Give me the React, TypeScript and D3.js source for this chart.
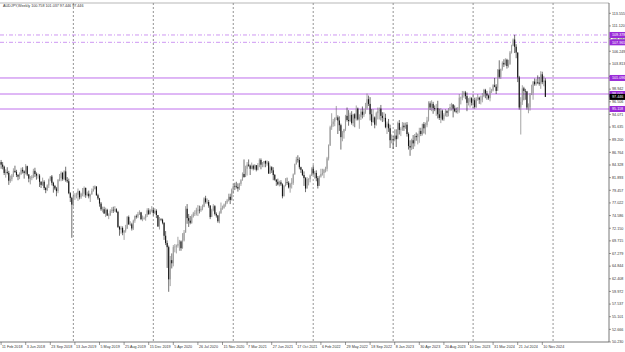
import React from "react";
import * as d3 from "d3";

const W = 625;
const H = 352;

const headerText = "AUDJPY,Weekly  100.758 101.037 97.446 97.446";
const firstOpen = 84.9;

// weekly closes, one row per calendar year (2018 starts 11 Feb 2018, last bar 24 Nov 2024)
const closes = [
  84.4,84.0,82.8,83.0,82.8,81.3,81.6,82.3,83.2,83.0,82.4,82.1,82.6,83.4,83.1,82.8,84.1,82.5,81.7,81.8,82.1,83.2,82.6,82.3,82.3,81.1,80.5,81.1,79.9,79.5,80.4,81.5,82.1,80.9,80.3,79.8,79.3,81.5,81.8,82.8,81.6,83.1,81.4,81.2,78.9,78.0,76.7,
  78.3,78.4,78.6,79.3,78.1,78.8,78.8,79.9,78.5,78.8,78.3,78.6,79.3,79.7,80.2,78.5,77.9,76.9,75.8,75.8,75.0,75.7,74.6,74.7,75.5,75.7,75.6,75.8,75.3,72.4,71.9,72.2,71.3,71.7,72.1,74.3,72.9,72.9,72.1,73.6,74.5,74.4,74.9,75.2,73.9,74.0,74.1,74.7,75.6,74.9,75.5,75.7,
  75.1,75.5,74.7,72.5,73.9,73.8,73.2,70.7,69.3,68.5,62.3,66.0,65.4,68.5,68.6,68.8,69.1,69.6,68.3,69.8,71.3,75.9,74.1,73.6,73.2,74.4,75.0,75.0,75.7,75.7,75.6,75.9,76.3,77.9,77.2,77.2,76.5,74.3,75.6,76.4,74.9,74.6,73.5,75.1,76.0,76.1,76.7,77.1,77.5,78.2,77.6,79.6,
  80.3,80.2,80.1,79.8,80.7,81.4,82.6,82.0,83.6,84.4,84.2,83.6,84.2,83.6,84.3,83.4,84.3,85.3,84.4,84.6,85.1,84.6,84.8,82.7,83.9,83.3,82.4,81.5,81.1,80.6,81.0,80.6,78.3,80.3,81.0,80.9,80.0,80.7,80.9,82.5,84.5,85.4,85.3,83.9,83.4,82.4,81.8,79.8,81.6,81.6,82.3,83.6,
  82.7,82.8,81.8,80.3,82.1,82.6,82.8,83.4,83.6,85.6,88.1,91.6,92.2,92.7,93.4,93.5,92.9,92.0,89.7,90.6,91.2,93.8,93.0,92.8,94.0,92.4,94.1,93.3,95.2,93.1,93.6,94.6,94.0,94.6,95.3,97.0,96.1,94.1,92.6,93.5,92.1,94.3,94.7,95.2,93.8,93.4,93.4,91.6,92.3,91.4,89.1,89.3,
  89.2,90.0,89.3,92.4,91.1,91.2,91.9,91.6,92.1,90.3,88.0,87.7,89.1,88.5,89.9,89.7,90.3,90.9,90.3,92.2,91.4,92.0,92.9,96.2,95.4,96.1,95.3,95.1,95.3,94.1,93.4,94.8,93.1,94.0,94.7,94.4,95.0,95.5,96.0,95.2,94.7,94.6,94.9,97.3,97.3,98.0,98.3,97.6,96.3,96.5,97.2,96.3,
  96.8,95.5,97.1,97.3,96.9,96.9,97.6,98.8,98.1,97.7,97.2,98.6,98.7,99.7,99.4,98.6,102.7,101.3,102.8,104.0,103.7,104.6,103.4,103.8,106.0,107.3,108.5,107.1,106.0,101.2,95.4,96.5,99.1,98.6,98.5,95.4,95.4,97.9,98.2,100.4,99.9,100.3,100.2,100.0,101.8,100.3,100.6,97.446,
];

const highs = [
  85.3,84.9,84.2,83.5,83.9,83.2,82.3,82.6,83.7,84.2,83.4,82.6,82.9,83.8,83.9,83.3,84.5,84.2,82.6,82.2,82.4,83.6,83.8,82.9,82.7,82.6,81.2,81.9,81.4,80.1,80.6,81.7,82.2,82.4,81.1,80.5,80.1,81.6,82.6,83.1,83.0,83.3,84.0,82.0,81.7,79.1,78.2,
  78.9,78.9,79.0,79.8,79.4,79.0,79.9,80.2,80.0,79.2,79.4,78.8,79.8,80.3,80.4,80.2,78.8,78.0,77.2,76.3,76.3,76.1,75.9,75.0,75.8,76.2,76.3,76.4,76.0,75.5,72.6,72.6,72.5,71.8,72.8,74.5,74.6,73.5,73.2,73.8,74.6,74.8,75.3,75.6,75.3,74.6,74.4,74.9,76.0,76.0,75.8,76.4,
  76.0,76.0,75.8,74.6,74.3,74.1,74.0,73.3,71.6,69.8,68.8,66.8,67.3,68.9,69.1,69.0,70.5,69.9,69.8,71.2,71.8,76.4,76.8,74.9,74.5,74.8,75.3,75.6,76.1,76.6,76.5,76.4,76.7,78.1,78.4,77.9,77.6,76.6,75.9,76.8,76.6,75.2,74.7,75.4,77.1,76.5,76.9,77.4,77.8,78.8,78.8,79.8,
  80.6,80.9,81.1,80.8,80.9,81.6,82.9,85.4,84.2,84.9,85.4,84.4,84.8,84.4,84.5,84.3,84.7,85.6,85.6,84.9,85.1,85.2,85.2,85.1,84.2,84.1,83.9,82.6,81.6,81.7,81.3,81.4,80.8,80.5,81.8,81.9,81.2,80.9,81.8,82.7,84.6,85.9,86.2,85.8,84.0,83.5,83.1,82.0,82.0,81.8,82.5,83.9,
  84.3,83.2,83.3,82.2,82.3,83.6,83.6,83.6,84.0,85.9,88.3,91.9,94.3,93.2,93.5,95.7,93.9,93.7,92.3,90.9,91.3,94.0,95.4,94.9,94.4,94.7,94.2,94.3,95.8,95.4,94.1,95.1,95.6,95.1,96.3,98.1,97.7,97.4,95.1,95.1,93.7,94.6,95.4,95.4,95.9,94.5,94.5,94.2,92.7,93.2,92.1,90.2,
  89.9,91.2,91.2,92.7,93.0,91.6,92.6,92.5,92.5,92.6,90.6,89.1,89.4,90.1,90.3,90.6,90.4,91.5,91.5,92.3,92.6,92.5,93.6,96.6,96.6,96.8,96.5,95.8,96.1,96.7,95.2,95.3,95.0,94.3,95.1,94.9,95.3,96.1,96.3,96.0,95.8,95.4,95.5,98.0,97.5,98.6,98.6,98.6,98.3,97.2,97.5,97.4,
  98.0,97.3,97.4,98.0,97.5,97.7,98.2,99.0,99.0,98.6,97.9,99.3,99.0,99.9,101.1,99.9,102.8,104.5,102.9,104.3,104.7,104.9,104.8,104.6,106.3,107.5,108.7,109.4,107.6,106.0,101.5,97.4,99.7,99.4,99.0,98.6,96.2,98.2,99.8,100.5,101.0,100.9,101.6,101.3,102.4,102.3,101.5,101.037,
];

const lows = [
  83.6,83.5,82.4,81.9,82.5,80.5,80.9,81.2,82.0,82.8,82.0,81.4,81.6,82.4,82.7,81.7,82.5,82.2,81.0,80.6,81.4,81.8,82.0,81.5,81.7,80.1,79.9,80.3,79.5,78.9,79.3,79.9,81.2,80.4,79.0,79.5,78.3,78.9,81.2,81.2,81.3,81.4,81.1,80.9,78.7,77.2,70.3,
  76.3,77.6,77.9,77.4,77.7,77.8,78.3,78.2,78.0,78.3,77.9,77.2,78.7,79.2,79.6,78.4,77.6,76.3,75.5,75.2,74.9,74.3,74.5,73.9,74.5,75.1,75.1,75.3,75.1,72.2,70.7,71.1,70.8,69.9,71.3,72.0,72.8,72.6,71.7,71.8,73.2,74.0,74.1,74.7,73.7,73.5,73.8,73.6,74.3,74.7,74.8,75.2,
  74.6,74.9,74.1,72.4,71.9,73.5,72.9,69.9,68.9,64.5,59.9,61.0,64.4,64.8,67.5,67.3,68.4,67.8,67.8,68.2,69.6,71.3,73.0,72.4,72.9,73.0,74.2,74.5,74.6,74.5,75.0,75.3,75.6,76.2,76.9,76.8,76.1,73.9,74.4,75.4,74.6,74.2,73.2,73.1,74.9,75.7,75.9,76.3,76.8,77.3,76.8,77.5,
  78.8,79.5,79.8,79.2,79.5,80.3,81.3,81.9,82.4,82.3,84.0,82.4,83.5,83.3,83.4,83.1,83.3,83.9,83.5,83.9,83.9,83.9,84.2,82.6,82.6,82.8,81.4,81.3,80.3,80.4,80.2,80.3,77.9,78.3,80.2,80.5,79.8,79.0,79.8,80.5,82.5,84.4,84.8,83.5,82.8,82.2,80.3,79.1,79.8,80.4,81.0,82.2,
  82.4,81.7,81.2,79.8,80.4,81.9,82.3,81.8,82.9,83.1,85.2,88.0,91.1,91.7,91.8,93.0,90.3,90.9,87.3,88.9,89.4,90.9,92.7,91.9,92.6,92.1,91.8,91.6,92.9,92.9,91.3,93.0,93.3,93.6,94.2,95.0,95.7,92.9,91.9,92.5,91.4,91.9,93.1,93.1,92.9,92.6,92.7,91.4,90.3,90.7,87.6,88.5,
  87.4,88.9,87.8,89.5,90.2,89.9,90.9,90.9,91.3,89.8,87.3,86.1,87.2,87.4,87.9,89.0,88.3,88.6,89.9,90.0,90.4,90.2,91.6,92.7,94.9,94.7,94.2,94.7,93.8,93.3,93.0,92.4,92.9,92.8,93.7,93.6,93.7,94.7,94.8,93.5,94.5,94.3,94.2,94.4,96.0,96.8,97.3,97.0,94.7,95.8,95.4,95.8,
  95.3,95.2,95.3,96.7,96.1,96.0,96.4,97.4,97.2,96.9,96.9,96.6,98.2,98.5,99.3,98.0,99.2,101.0,100.9,102.5,103.2,103.5,102.9,103.1,103.6,105.8,107.2,105.9,104.9,100.3,95.0,90.2,95.9,96.8,96.9,95.0,94.3,94.8,97.8,96.9,99.6,99.6,99.9,99.6,99.0,99.9,99.5,97.446,
];

// time axis labels, one every 16 weekly bars starting at bar 0
const dateLabels = [
  "11 Feb 2018","3 Jun 2018","23 Sep 2018","13 Jan 2019","5 May 2019","25 Aug 2019","15 Dec 2019",
  "5 Apr 2020","26 Jul 2020","15 Nov 2020","7 Mar 2021","27 Jun 2021","17 Oct 2021","6 Feb 2022",
  "29 May 2022","18 Sep 2022","8 Jan 2023","30 Apr 2023","20 Aug 2023","10 Dec 2023","31 Mar 2024",
  "21 Jul 2024","10 Nov 2024",
];
const dateLabelStep = 16;

// price scale labels
const priceLabels = [
  113.555,111.120,108.684,106.249,103.813,101.378,98.942,96.506,94.071,91.635,89.200,86.764,84.328,
  81.893,79.457,77.022,74.586,72.150,69.715,67.279,64.844,62.408,59.972,57.537,55.101,52.666,50.230,
];

// horizontal levels drawn on the chart
const levelValues = [109.378, 107.965, 101.096, 98.005, 95.118];
const levelDashed = [true, true, false, false, false];
const currentPrice = 97.446;

// vertical grid positions (bar index)
const gridBars = [47, 99, 151, 203, 255, 307, 359];

const PLOT_RIGHT = 609;
const PLOT_TOP = 3;
const PLOT_BOTTOM = 342;
const FONT = "'Liberation Sans', Arial, sans-serif";
const FS = 3.7;
const PURPLE = "#9a2bd8";

export default function App() {
  const n = closes.length;
  const x = d3.scaleLinear().domain([0, n - 1]).range([1.1, 1.1 + (n - 1) * 1.5375]);
  const y = d3.scaleLinear().domain([50.23, 113.555]).range([PLOT_BOTTOM, 13.3]);
  const fmt = d3.format(".3f");
  const bodyW = 1.1;

  const bars = closes.map((c, i) => {
    const o = i === 0 ? firstOpen : closes[i - 1];
    return { o, c, h: highs[i], l: lows[i], i };
  });

  return (
    <svg
      width={W}
      height={H}
      viewBox={`0 0 ${W} ${H}`}
      style={{ position: "fixed", left: 0, top: 0, background: "#fff" }}
    >
      <rect x={0} y={0} width={W} height={H} fill="#fff" />
      {/* vertical grid */}
      {gridBars.map((g) => (
        <line
          key={"g" + g}
          x1={x(g)}
          x2={x(g)}
          y1={PLOT_TOP}
          y2={PLOT_BOTTOM}
          stroke="#666"
          strokeWidth={0.7}
          strokeDasharray="2 2"
        />
      ))}
      {/* level lines */}
      {levelValues.map((v, k) => (
        <line
          key={"lv" + k}
          x1={0}
          x2={PLOT_RIGHT}
          y1={y(v)}
          y2={y(v)}
          stroke={levelDashed[k] ? "#c88cf0" : "#b860ea"}
          strokeWidth={levelDashed[k] ? 0.9 : 0.9}
          strokeDasharray={levelDashed[k] ? "4 2 1 2" : undefined}
        />
      ))}
      {/* candles */}
      {bars.map((b) => {
        const bull = b.c >= b.o;
        const cx = x(b.i);
        const top = y(Math.max(b.o, b.c));
        const bot = y(Math.min(b.o, b.c));
        return (
          <g key={"b" + b.i}>
            <line
              x1={cx}
              x2={cx}
              y1={y(b.h)}
              y2={y(b.l)}
              stroke={bull ? "#666" : "#111"}
              strokeWidth={0.6}
            />
            <rect
              x={cx - bodyW / 2}
              y={top}
              width={bodyW}
              height={Math.max(0.6, bot - top)}
              fill={bull ? "#9c9c9c" : "#151515"}
            />
          </g>
        );
      })}
      {/* frame */}
      <line x1={0} x2={PLOT_RIGHT} y1={PLOT_TOP} y2={PLOT_TOP} stroke="#999" strokeWidth={0.7} />
      <line x1={0} x2={PLOT_RIGHT} y1={PLOT_BOTTOM} y2={PLOT_BOTTOM} stroke="#555" strokeWidth={0.8} />
      <line x1={PLOT_RIGHT} x2={PLOT_RIGHT} y1={PLOT_TOP} y2={PLOT_BOTTOM} stroke="#555" strokeWidth={0.8} />
      {/* price axis labels */}
      {priceLabels.map((v) => (
        <g key={"p" + v}>
          <line x1={PLOT_RIGHT} x2={PLOT_RIGHT + 2} y1={y(v)} y2={y(v)} stroke="#555" strokeWidth={0.6} />
          <text
            x={PLOT_RIGHT + 3}
            y={y(v)}
            dy="0.35em"
            fontSize={FS}
            fontFamily={FONT}
            fill="#333"
          >
            {fmt(v)}
          </text>
        </g>
      ))}
      {/* level labels */}
      {levelValues.map((v, k) => (
        <g key={"ll" + k}>
          <rect x={PLOT_RIGHT + 0.5} y={y(v) - 3} width={15.5} height={6} fill={PURPLE} />
          <text
            x={PLOT_RIGHT + 3}
            y={y(v)}
            dy="0.35em"
            fontSize={FS}
            fontFamily={FONT}
            fill="#fff"
          >
            {fmt(v)}
          </text>
        </g>
      ))}
      <g>
        <rect x={PLOT_RIGHT + 0.5} y={y(currentPrice) - 3} width={15.5} height={6} fill="#000" />
        <text
          x={PLOT_RIGHT + 3}
          y={y(currentPrice)}
          dy="0.35em"
          fontSize={FS}
          fontFamily={FONT}
          fill="#fff"
        >
          {fmt(currentPrice)}
        </text>
      </g>
      {/* time axis */}
      {dateLabels.map((lab, k) => {
        const bx = x(k * dateLabelStep);
        return (
          <g key={"d" + k}>
            <line x1={bx} x2={bx} y1={PLOT_BOTTOM} y2={PLOT_BOTTOM + 3} stroke="#555" strokeWidth={0.6} />
            <text x={bx + 1} y={PLOT_BOTTOM + 6.3} fontSize={FS} fontFamily={FONT} fill="#333">
              {lab}
            </text>
          </g>
        );
      })}
      {/* header */}
      <text x={3} y={7.3} fontSize={FS} fontFamily={FONT} fill="#333">
        {headerText}
      </text>
    </svg>
  );
}
